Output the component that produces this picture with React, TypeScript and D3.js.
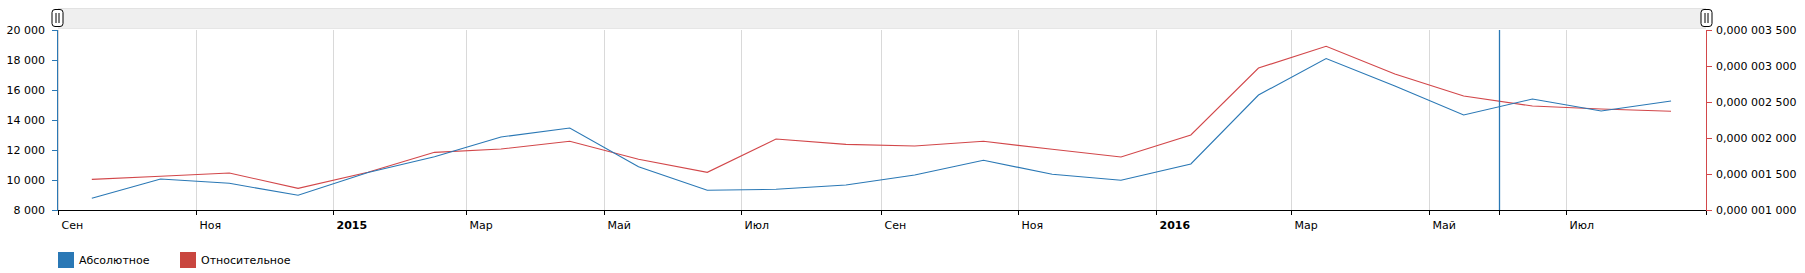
import React from "react";
import * as d3 from "d3";

const months: string[] = [
  "2014-09", "2014-10", "2014-11", "2014-12",
  "2015-01", "2015-02", "2015-03", "2015-04", "2015-05", "2015-06",
  "2015-07", "2015-08", "2015-09", "2015-10", "2015-11", "2015-12",
  "2016-01", "2016-02", "2016-03", "2016-04", "2016-05", "2016-06",
  "2016-07", "2016-08",
];

const absoluteValues: number[] = [
  8780, 10067, 9780, 8980,
  10500, 11553, 12867, 13467, 10887, 9313,
  9380, 9667, 10333, 11313, 10380, 9980,
  11067, 15667, 18100, 16267, 14333, 15400,
  14600, 15267,
];

const relativeValues: number[] = [
  1.426e-6, 1.468e-6, 1.514e-6, 1.301e-6,
  1.525e-6, 1.801e-6, 1.847e-6, 1.954e-6, 1.704e-6, 1.523e-6,
  1.986e-6, 1.912e-6, 1.889e-6, 1.954e-6, 1.843e-6, 1.736e-6,
  2.042e-6, 2.972e-6, 3.274e-6, 2.889e-6, 2.583e-6, 2.444e-6,
  2.403e-6, 2.371e-6,
];

const leftTicks: number[] = [8000, 10000, 12000, 14000, 16000, 18000, 20000];
const rightTicks: number[] = [1.0e-6, 1.5e-6, 2.0e-6, 2.5e-6, 3.0e-6, 3.5e-6];
const monthNames: string[] = ["Янв", "Фев", "Мар", "Апр", "Май", "Июн", "Июл", "Авг", "Сен", "Окт", "Ноя", "Дек"];
const seriesNames: string[] = ["Абсолютное", "Относительное"];
const cursorDate = "2016-06-01";

const BLUE = "#2a78b5";
const RED = "#d2474a";
const FONT = "'DejaVu Sans', Verdana, sans-serif";

function parseMonth(m: string): Date {
  const [y, mo] = m.split("-").map(Number);
  return new Date(y, mo - 1, 1);
}
function midMonth(m: string): Date {
  const s = parseMonth(m);
  const e = d3.timeMonth.offset(s, 1);
  return new Date((s.getTime() + e.getTime()) / 2);
}

function fmtLeft(v: number): string {
  return d3.format(",")(v).replace(/,/g, " ");
}
function fmtRight(v: number): string {
  const s = v.toFixed(9); // 0.000003500
  const [ip, fp] = s.split(".");
  const groups = fp.match(/.{1,3}/g) || [];
  return ip + "," + groups.join(" ");
}

export default function App() {
  const W = 1805, H = 273;
  const x0 = 58, x1 = 1706, yTop = 30, yBot = 210;

  const x = d3.scaleTime()
    .domain([new Date(2014, 8, 1), new Date(2016, 8, 1)])
    .range([x0, x1]);
  const yL = d3.scaleLinear().domain([8000, 20000]).range([yBot, yTop]);
  const yR = d3.scaleLinear().domain([1.0e-6, 3.5e-6]).range([yBot, yTop]);

  const xTicks = d3.timeMonth.every(2)!.range(new Date(2014, 8, 1), new Date(2016, 8, 1));

  const dates = months.map(midMonth);
  const lineL = d3.line<number>().x((_, i) => x(dates[i])).y((v) => yL(v));
  const lineR = d3.line<number>().x((_, i) => x(dates[i])).y((v) => yR(v));

  const cx = Math.round(x(new Date(cursorDate + "T00:00:00"))) + 0.5;

  return (
    <svg width={W} height={H} style={{ position: "absolute", left: 0, top: 0, fontFamily: FONT }}>
      <rect x={0} y={0} width={W} height={H} fill="#fff" />
      {/* scrollbar */}
      <rect x={x0} y={8} width={x1 - x0} height={21} fill="#efefef" />
      <line x1={x0} x2={x1} y1={8.5} y2={8.5} stroke="#e2e2e2" />
      <line x1={x0} x2={x1} y1={28.5} y2={28.5} stroke="#e6e6e6" />

      {/* grid */}
      {xTicks.map((t, i) => (
        <line key={"g" + i} x1={Math.round(x(t)) + 0.5} x2={Math.round(x(t)) + 0.5} y1={yTop} y2={yBot}
          stroke="#d9d9d9" strokeWidth={1} />
      ))}

      {/* x axis */}
      <line x1={x0} x2={x1 + 1} y1={yBot + 0.5} y2={yBot + 0.5} stroke="#000" />
      {xTicks.map((t, i) => {
        const px = Math.round(x(t)) + 0.5;
        const jan = t.getMonth() === 0;
        return (
          <g key={"xt" + i}>
            <line x1={px} x2={px} y1={yBot} y2={yBot + 5} stroke="#000" />
            <text x={px + 3} y={229} fontSize={11} fontWeight={jan ? "bold" : "normal"} fill="#000">
              {jan ? String(t.getFullYear()) : monthNames[t.getMonth()]}
            </text>
          </g>
        );
      })}
      <line x1={x1 + 0.5} x2={x1 + 0.5} y1={yBot} y2={yBot + 5} stroke="#000" />

      {/* left axis */}
      <line x1={x0 - 0.5} x2={x0 - 0.5} y1={yTop} y2={yBot} stroke={BLUE} />
      {leftTicks.map((v, i) => (
        <g key={"lt" + i}>
          <line x1={x0 - 6} x2={x0} y1={Math.round(yL(v)) + 0.5} y2={Math.round(yL(v)) + 0.5} stroke={BLUE} />
          <text x={45} y={yL(v)} dy="0.35em" textAnchor="end" fontSize={11} fill="#000">{fmtLeft(v)}</text>
        </g>
      ))}

      {/* right axis */}
      <line x1={x1 + 0.5} x2={x1 + 0.5} y1={yTop} y2={yBot} stroke={RED} />
      {rightTicks.map((v, i) => (
        <g key={"rt" + i}>
          <line x1={x1} x2={x1 + 6} y1={Math.round(yR(v)) + 0.5} y2={Math.round(yR(v)) + 0.5} stroke={RED} />
          <text x={1716} y={yR(v)} dy="0.35em" fontSize={11} fill="#000">{fmtRight(v)}</text>
        </g>
      ))}

      {/* lines */}
      <path d={lineR(relativeValues) || ""} fill="none" stroke={RED} strokeWidth={1.1} />
      <path d={lineL(absoluteValues) || ""} fill="none" stroke={BLUE} strokeWidth={1.1} />

      {/* cursor */}
      <line x1={cx} x2={cx} y1={yTop} y2={yBot} stroke={BLUE} strokeWidth={1.3} />
      <line x1={cx} x2={cx} y1={yBot} y2={yBot + 5} stroke="#000" />

      {/* grips */}
      {[x0 - 0.5, x1 + 0.5].map((gx, i) => (
        <g key={"grip" + i}>
          <rect x={gx - 5.5} y={9.5} width={11} height={17} rx={3} fill="#fff" stroke="#000" />
          <line x1={gx - 1.5} x2={gx - 1.5} y1={13} y2={23} stroke="#000" />
          <line x1={gx + 1.5} x2={gx + 1.5} y1={13} y2={23} stroke="#000" />
        </g>
      ))}

      {/* legend */}
      {seriesNames.map((n, i) => {
        const lx = 58 + i * 122;
        return (
          <g key={"lg" + i}>
            <rect x={lx} y={252} width={16} height={16} fill={i === 0 ? BLUE : "#c9463f"} />
            <text x={lx + 21} y={264} fontSize={11} fill="#000">{n}</text>
          </g>
        );
      })}
    </svg>
  );
}
